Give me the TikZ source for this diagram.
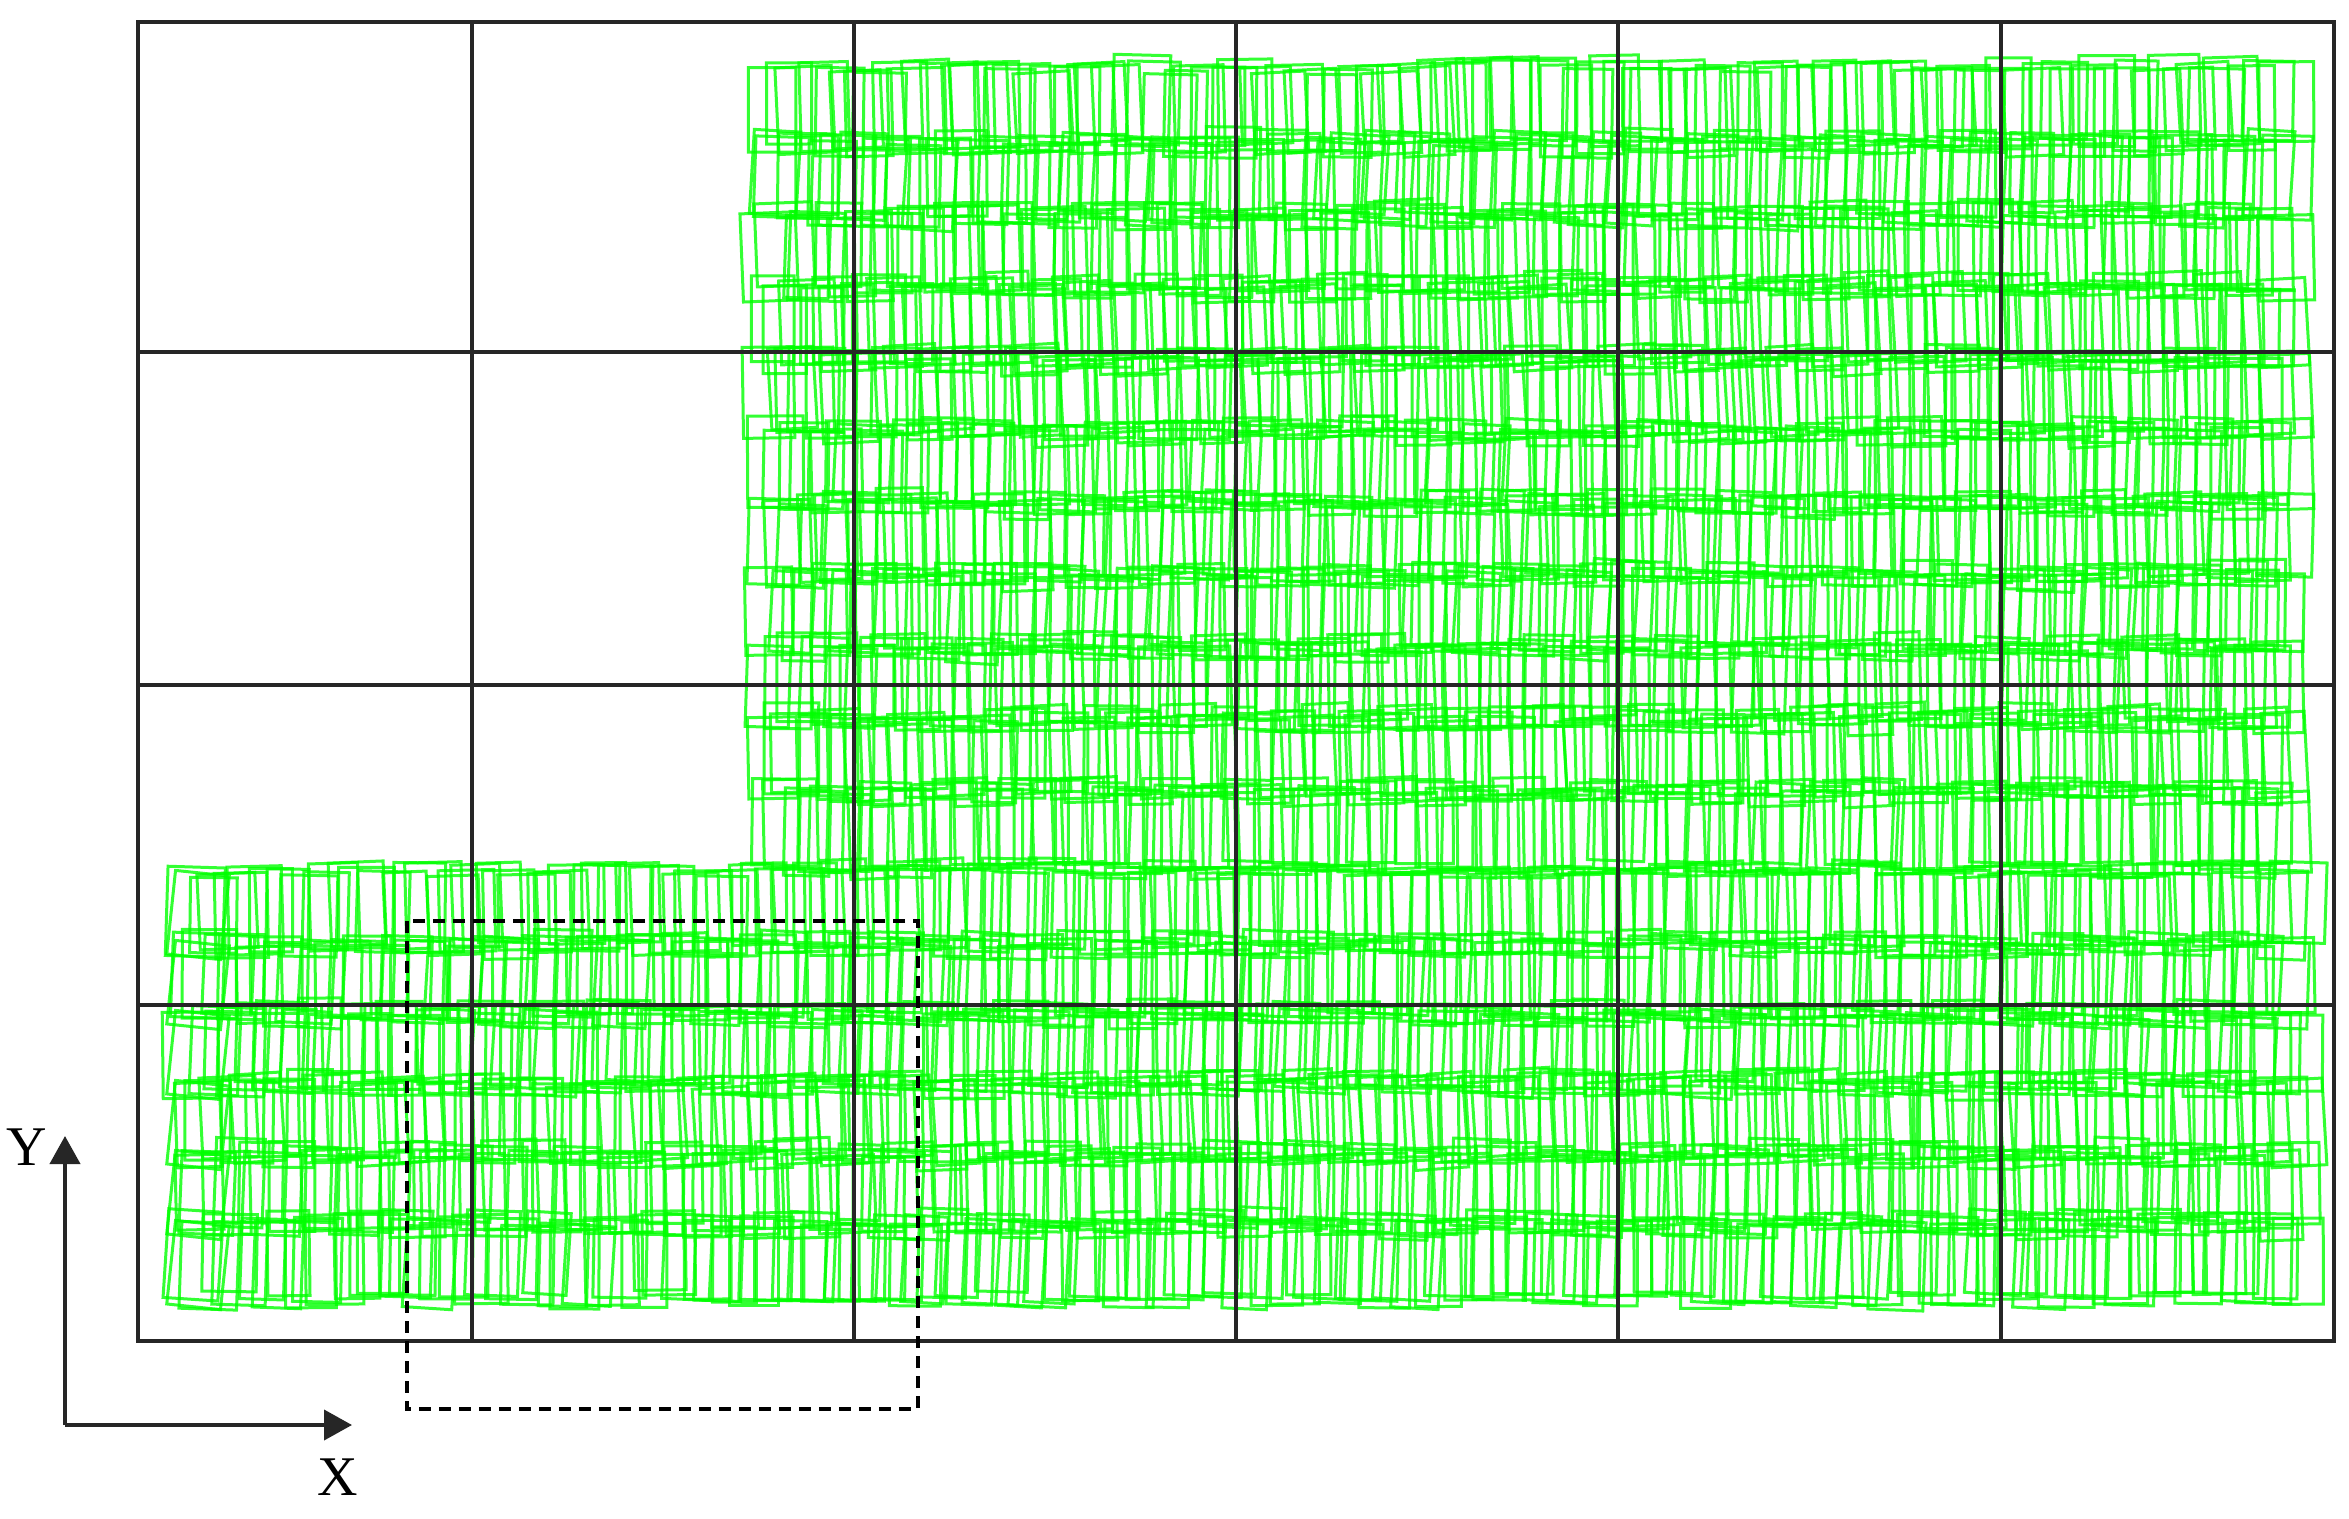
\documentclass[tikz,border=0pt]{standalone}
\usepackage{fontspec}
\setmainfont{Liberation Serif}
\usetikzlibrary{arrows.meta}
\definecolor{fpgreen}{RGB}{0,255,0}
\begin{document}
\begin{tikzpicture}[x=0.5pt,y=-0.5pt,
  fp/.style={draw=fpgreen,line width=1.5pt,opacity=0.8},
  gridline/.style={draw=black!85,line width=2.4pt},
  frame/.style={draw=black,line width=2pt,dashed,dash pattern=on 6pt off 4pt},
  axis/.style={draw=black!85,line width=2pt,-{Triangle[length=14pt,width=15pt]}},
  axlabel/.style={font=\fontsize{28}{30}\selectfont,inner sep=0pt}]
\useasboundingbox[fill=white] (0,0) rectangle (2349,1519);
\pgfmathsetseed{11}
% upper block of footprints
\foreach \r in {0,...,10}{
  \pgfmathsetmacro\tilt{rand*1.5}
  \foreach \i in {0,...,95}{
    \pgfmathsetmacro\cx{772+\i*15.9+rand*5}
    \pgfmathsetmacro\cy{107+\r*72+rand*7}
    \pgfmathsetmacro\w{50+rand*8}
    \pgfmathsetmacro\h{84+rand*8}
    \pgfmathsetmacro\a{\tilt+rand*2.5}
    \draw[fp,rotate around={\a:(\cx,\cy)}] ({\cx-\w/2},{\cy-\h/2}) rectangle ({\cx+\w/2},{\cy+\h/2});
  }
}
% lower strip of footprints
\foreach \r in {0,...,5}{
  \pgfmathsetmacro\tilt{rand*1.5}
  \foreach \i in {0,...,132}{
    \pgfmathsetmacro\cx{195+\i*15.9+rand*5}
    \pgfmathsetmacro\cy{909+\r*70+rand*7}
    \pgfmathsetmacro\w{50+rand*8}
    \pgfmathsetmacro\h{82+rand*8}
    \pgfmathsetmacro\a{\tilt+rand*2.5}
    \draw[fp,rotate around={\a:(\cx,\cy)}] ({\cx-\w/2},{\cy-\h/2}) rectangle ({\cx+\w/2},{\cy+\h/2});
  }
}
% tilted first footprints at left end of lower strip
\foreach \r in {0,...,5}{
  \pgfmathsetmacro\cy{915+\r*70}
  \draw[fp,rotate around={-6:(198,\cy)}] (171,{\cy-42}) rectangle (225,{\cy+42});
}
% grid
\foreach \x in {472,854,1236,1618,2001}{
  \draw[gridline] (\x,22) -- (\x,1341);
}
\foreach \y in {352,685,1005}{
  \draw[gridline] (138,\y) -- (2334,\y);
}
\draw[gridline] (138,22) rectangle (2334,1341);
% dashed frame
\draw[frame] (407,921) rectangle (918,1409);
% axes
\coordinate (O) at (65,1425);
\coordinate (Ytip) at (65,1136);
\coordinate (Xtip) at (352,1425);
\draw[axis] (O) -- (Ytip);
\draw[axis] (O) -- (Xtip);
\node[axlabel] (ylab) at (27,1147) {Y};
\node[axlabel] (xlab) at (338,1477) {X};
\end{tikzpicture}
\end{document}
